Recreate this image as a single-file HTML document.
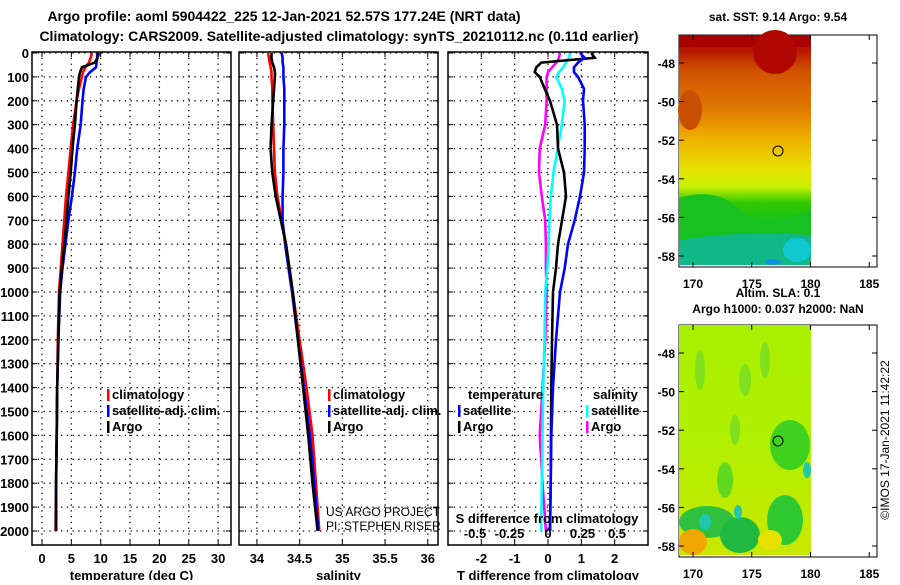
<!DOCTYPE html>
<html><head><meta charset="utf-8"><style>
body{margin:0;background:#fff;width:900px;height:580px;overflow:hidden}
svg text{font-family:"Liberation Sans",sans-serif;font-weight:bold;fill:#000}
</style></head><body>
<svg id="c" width="900" height="580" xmlns="http://www.w3.org/2000/svg">
<defs>
<linearGradient id="g1" x1="0" y1="0" x2="0" y2="1">
<stop offset="0" stop-color="#a80000"/><stop offset="0.07" stop-color="#b81800"/>
<stop offset="0.15" stop-color="#d05000"/><stop offset="0.32" stop-color="#e07800"/>
<stop offset="0.45" stop-color="#f0b000"/><stop offset="0.58" stop-color="#e8e000"/>
<stop offset="0.66" stop-color="#c8f000"/><stop offset="0.73" stop-color="#30c800"/>
<stop offset="0.85" stop-color="#10c020"/><stop offset="1" stop-color="#10b890"/>
</linearGradient>
<linearGradient id="g2" x1="0" y1="0" x2="0" y2="1">
<stop offset="0" stop-color="#a8f000"/><stop offset="0.5" stop-color="#b0f000"/><stop offset="1" stop-color="#c8e800"/>
</linearGradient>
</defs>
<g id="titles">
<text x="284" y="21" font-size="14" text-anchor="middle">Argo profile: aoml 5904422_225 12-Jan-2021 52.57S 177.24E (NRT data)</text>
<text x="339" y="41" font-size="14" text-anchor="middle">Climatology: CARS2009. Satellite-adjusted climatology: synTS_20210112.nc (0.11d earlier)</text>
</g>
<g id="plots"></g>
<g id="maps">
<text x="778" y="21" font-size="12" text-anchor="middle">sat. SST: 9.14 Argo: 9.54</text>
<rect x="679" y="35" width="198" height="232" fill="#fff" stroke="#000"/>
<g>
<rect x="679" y="35" width="132" height="230" fill="url(#g1)"/>
<rect x="679" y="35" width="132" height="12" fill="#a80000"/>
<ellipse cx="775" cy="52" rx="22" ry="22" fill="#b00800"/>
<ellipse cx="690" cy="110" rx="12" ry="20" fill="#c85000"/>
<path d="M679 198 Q720 185 745 215 Q770 225 811 210 L811 265 L679 265Z" fill="#18c020"/>
<path d="M679 240 Q740 230 811 235 L811 265 L679 265Z" fill="#10b888"/>
<ellipse cx="797" cy="250" rx="14" ry="12" fill="#10c8d0"/>
<ellipse cx="773" cy="262" rx="8" ry="3" fill="#1090e0"/>
</g>
<circle cx="778" cy="151" r="5" fill="none" stroke="#000"/>
<text x="778" y="297" font-size="12" text-anchor="middle">Altim. SLA: 0.1</text>
<text x="778" y="313" font-size="12" text-anchor="middle">Argo h1000: 0.037 h2000: NaN</text>
<rect x="679" y="325" width="198" height="232" fill="#fff" stroke="#000"/>
<g>
<rect x="679" y="325" width="132" height="230" fill="url(#g2)"/>
<ellipse cx="790" cy="445" rx="20" ry="25" fill="#40d020"/>
<ellipse cx="707" cy="522" rx="28" ry="16" fill="#30c040"/>
<ellipse cx="740" cy="535" rx="20" ry="18" fill="#20b840"/>
<ellipse cx="785" cy="520" rx="18" ry="25" fill="#30c830"/>
<ellipse cx="705" cy="522" rx="6" ry="8" fill="#20c8b0"/>
<ellipse cx="738" cy="512" rx="4" ry="7" fill="#20c8b0"/>
<ellipse cx="807" cy="470" rx="4" ry="8" fill="#20c8b0"/>
<ellipse cx="693" cy="542" rx="14" ry="13" fill="#f0a800"/>
<ellipse cx="725" cy="480" rx="8" ry="18" fill="#60d820"/>
<ellipse cx="745" cy="380" rx="6" ry="16" fill="#80e020"/>
<ellipse cx="700" cy="370" rx="5" ry="20" fill="#80e020"/>
<ellipse cx="765" cy="360" rx="5" ry="18" fill="#80e020"/>
<ellipse cx="735" cy="430" rx="5" ry="15" fill="#80e020"/>
<ellipse cx="770" cy="540" rx="12" ry="10" fill="#e8e000"/>
</g>
<circle cx="778" cy="441" r="5" fill="none" stroke="#000"/>
<text transform="translate(889,440) rotate(-90)" font-size="12" style="font-weight:normal" text-anchor="middle">©IMOS 17-Jan-2021 11:42:22</text>
</g>
<g id="mapaxes"></g>
</svg>
<script>
const depths=[0,20,40,60,80,100,150,200,300,400,500,600,700,800,900,1000,1200,1400,1600,1800,2000];
const tempClim=[8.5,8.3,8.0,7.4,7.0,6.8,6.3,5.9,5.3,4.9,4.5,4.1,3.8,3.5,3.2,2.9,2.7,2.6,2.5,2.4,2.3];
const tempSat=[9.4,9.4,9.3,9.2,8.2,7.5,7.1,6.9,6.6,6.0,5.6,5.1,4.5,4.0,3.5,3.1,2.8,2.6,2.5,2.4,2.4];
const tempArgo=[9.7,9.5,9.0,6.8,6.5,6.3,6.1,5.9,5.6,5.2,4.9,4.5,4.2,3.8,3.4,3.0,2.8,2.6,2.5,2.4,2.4];
const salClim=[34.13,34.14,34.15,34.16,34.17,34.17,34.18,34.18,34.19,34.2,34.21,34.24,34.29,34.34,34.38,34.42,34.5,34.58,34.65,34.69,34.73];
const salSat=[34.29,34.3,34.3,34.31,34.31,34.31,34.32,34.32,34.32,34.31,34.31,34.3,34.3,34.33,34.37,34.41,34.48,34.55,34.62,34.67,34.72];
const salArgo=[34.17,34.17,34.18,34.2,34.21,34.21,34.2,34.19,34.17,34.16,34.18,34.22,34.28,34.34,34.38,34.42,34.48,34.54,34.6,34.65,34.71];
const tdSat=[0.96,1.1,0.9,0.78,0.78,0.9,1.08,1.05,1.1,1.1,1.08,0.96,0.8,0.6,0.5,0.36,0.24,0.15,0.1,0.08,0.06];
const tdArgo=[1.3,1.4,-0.2,-0.35,-0.4,-0.25,-0.1,0.06,0.27,0.3,0.48,0.54,0.42,0.3,0.24,0.15,0.12,0.1,0.09,0.08,0.06];
const sdSat=[0.16,0.15,0.13,0.11,0.08,0.06,0.1,0.12,0.1,0.07,0.04,0.02,0.01,0.005,-0.005,-0.02,-0.025,-0.035,-0.04,-0.045,-0.05];
const sdArgo=[0.087,0.08,0.06,0.03,0.0,-0.01,-0.01,-0.01,-0.02,-0.06,-0.065,-0.045,-0.02,-0.015,-0.015,-0.01,-0.02,-0.04,-0.06,-0.04,-0.015];
const depthTicks=[0,100,200,300,400,500,600,700,800,900,1000,1100,1200,1300,1400,1500,1600,1700,1800,1900,2000];
const tempTicks=[0,5,10,15,20,25,30];
const salTicks=[34,34.5,35,35.5,36];
const tdTicks=[-2,-1,0,1,2];
const sdTicks=[-0.5,-0.25,0,0.25,0.5];
const latTicks=[-48,-50,-52,-54,-56,-58];
const lonTicks=[170,175,180,185];

const NS='http://www.w3.org/2000/svg';
const plots=document.getElementById('plots');
function mk(tag,attrs,parent,txt){const e=document.createElementNS(NS,tag);for(const k in attrs)e.setAttribute(k,attrs[k]);if(txt!==undefined)e.textContent=txt;(parent||plots).appendChild(e);return e;}
const Y=d=>53+d*0.239;
const TOP=52,BOT=545;
const panels=[
 {x0:32,x1:231,min:-1.7,max:32.2,ticks:tempTicks,lab:'temperature (deg C)',name:'temperature'},
 {x0:239,x1:438,min:33.79,max:36.12,ticks:salTicks,lab:'salinity',name:'salinity'},
 {x0:448,x1:648,min:-3,max:3,ticks:tdTicks,lab:'T difference from climatology',name:'difference'}
];
panels.forEach(p=>{p.X=v=>p.x0+(v-p.min)/(p.max-p.min)*(p.x1-p.x0);});
const sdX=v=>548+v*138;
panels.forEach((p,i)=>{
 const g=mk('g',{});
 
 
 depthTicks.forEach(d=>{
  const l=mk('line',{x1:p.x0,x2:p.x1,y1:Y(d),y2:Y(d),stroke:'#000','stroke-width':1.3,'stroke-dasharray':'1.3,4.5'},g);
  
  
  mk('line',{x1:p.x0,x2:p.x0+5,y1:Y(d),y2:Y(d),stroke:'#000'},g);
  mk('line',{x1:p.x1-5,x2:p.x1,y1:Y(d),y2:Y(d),stroke:'#000'},g);
  if(i===0){const t=mk('text',{x:29,y:Y(d)+5,'font-size':13,'text-anchor':'end'},g,String(d));
   
   }
 });
 p.ticks.forEach(v=>{
  const x=p.X(v);
  mk('line',{x1:x,x2:x,y1:TOP,y2:BOT,stroke:'#000','stroke-width':1.3,'stroke-dasharray':'1.3,4.5'},g);
  mk('line',{x1:x,x2:x,y1:BOT-5,y2:BOT,stroke:'#000'},g);
  mk('line',{x1:x,x2:x,y1:TOP,y2:TOP+5,stroke:'#000'},g);
  const t=mk('text',{x:x,y:563,'font-size':13,'text-anchor':'middle'},g,String(v));
  
  
 });
 const fr=mk('rect',{x:p.x0,y:TOP,width:p.x1-p.x0,height:BOT-TOP,fill:'none',stroke:'#000','stroke-width':1.5},g);
 
 
 const xl=mk('text',{x:(p.x0+p.x1)/2,y:580,'font-size':13,'text-anchor':'middle'},g,p.lab);
 
 
});
function line(vals,xf,color,name){
 const pts=vals.map((v,k)=>xf(v).toFixed(1)+','+Y(depths[k]).toFixed(1)).join(' ');
 const pl=mk('polyline',{points:pts,fill:'none',stroke:color,'stroke-width':2.6});
 
 
}
line(tempClim,panels[0].X,'#f00','temp-climatology-line');
line(tempSat,panels[0].X,'#00f','temp-satellite-line');
line(tempArgo,panels[0].X,'#000','temp-argo-line');
line(salClim,panels[1].X,'#f00','sal-climatology-line');
line(salSat,panels[1].X,'#00f','sal-satellite-line');
line(salArgo,panels[1].X,'#000','sal-argo-line');
line(sdArgo,sdX,'#f0f','sdiff-argo-line');
line(sdSat,sdX,'#0ff','sdiff-satellite-line');
line(tdArgo,panels[2].X,'#000','tdiff-argo-line');
line(tdSat,panels[2].X,'#00f','tdiff-satellite-line');
sdTicks.forEach(v=>{const t=mk('text',{x:sdX(v)+(v<0?-4:0),y:538,'font-size':13,'text-anchor':'middle'},plots,String(v));
 
 });
const st=mk('text',{x:547,y:523,'font-size':13,'text-anchor':'middle'},plots,'S difference from climatology');


function leg(x,y,color,label,name){
 const g=mk('g',{});
 
 
 if(color)mk('rect',{x:x,y:y-10,width:2.5,height:12,fill:color},g);
 mk('text',{x:x+5,y:y,'font-size':13},g,label);
}
leg(107,399,'#f00','climatology','legend-temp-climatology');
leg(107,415,'#00f','satellite-adj. clim.','legend-temp-satellite');
leg(107,431,'#000','Argo','legend-temp-argo');
leg(328,399,'#f00','climatology','legend-sal-climatology');
leg(328,415,'#00f','satellite-adj. clim.','legend-sal-satellite');
leg(328,431,'#000','Argo','legend-sal-argo');
leg(463,399,null,'temperature','legend-temp-header');
leg(458,415,'#00f','satellite','legend-tdiff-satellite');
leg(458,431,'#000','Argo','legend-tdiff-argo');
leg(588,399,null,'salinity','legend-sal-header');
leg(586,415,'#0ff','satellite','legend-sdiff-satellite');
leg(586,431,'#f0f','Argo','legend-sdiff-argo');
[['US ARGO PROJECT',516],['PI: STEPHEN RISER',530]].forEach(([s,y])=>{
 const t=mk('text',{x:326,y:y,'font-size':12,style:'font-weight:normal'},plots,s);
 
 });
const ma=document.getElementById('mapaxes');
[0,290].forEach((off,mi)=>{
 latTicks.forEach(lat=>{
  const y=off+63+(-48-lat)*19.3;
  mk('line',{x1:679,x2:684,y1:y,y2:y,stroke:'#000'},ma);
  mk('line',{x1:872,x2:877,y1:y,y2:y,stroke:'#000'},ma);
  const t=mk('text',{x:675,y:y+5,'font-size':12,'text-anchor':'end'},ma,String(lat));
  
  
 });
 lonTicks.forEach(lon=>{
  const x=693+(lon-170)*11.75;
  mk('line',{x1:x,x2:x,y1:off+262,y2:off+267,stroke:'#000'},ma);
  mk('line',{x1:x,x2:x,y1:off+35,y2:off+40,stroke:'#000'},ma);
  const t=mk('text',{x:x,y:off+288,'font-size':12,'text-anchor':'middle'},ma,String(lon));
  
  
 });
});
</script>
</body></html>
